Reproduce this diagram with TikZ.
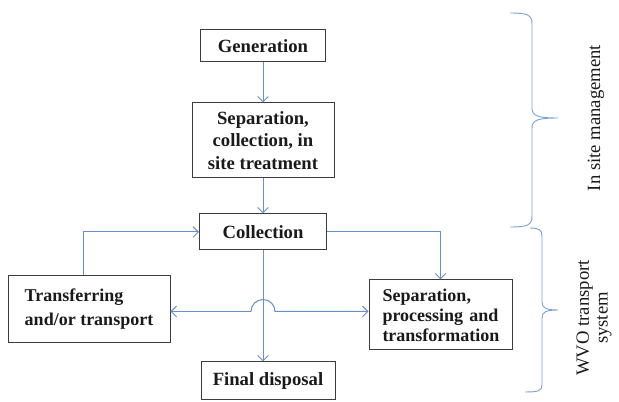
\documentclass[tikz,border=0pt]{standalone}
\usepackage{fontspec}
\setmainfont{Liberation Serif}
\usepackage{tikz}
\usetikzlibrary{positioning,arrows.meta,calc}
\definecolor{ink}{HTML}{1B1919}
\definecolor{flowBlue}{HTML}{6690CC}
\definecolor{braceBlue}{HTML}{7BA1D8}
\tikzset{
  box/.style={draw=ink!85, line width=0.75pt, inner sep=2pt, font=\fontsize{14}{17}\selectfont\bfseries, text=ink, align=center},
  flow/.style={draw=flowBlue, line width=0.75pt, -{Straight Barb[length=4pt,width=8pt]}},
  brc/.style={draw=braceBlue, line width=0.7pt},
  side/.style={font=\fontsize{14}{14}\selectfont, text=ink, rotate=90, align=center},
}

\begin{document}
\begin{tikzpicture}[x=0.75pt, y=-0.75pt]
\useasboundingbox (0,0) rectangle (619,402);
\node[box, minimum width=93.75pt, minimum height=24pt] (gen) at (263,46) {Generation};
\node[box, minimum width=106.5pt, minimum height=56.25pt] (sep) at (263,140.5) {Separation,\\collection, in\\site treatment};
\node[box, minimum width=95.25pt, minimum height=27pt] (coll) at (263,232) {Collection};
\node[box, minimum width=121.5pt, minimum height=50.25pt, align=left, font=\fontsize{13.5}{18}\selectfont\bfseries] (trans) at (89,309.5) {Transferring\\and/or transport};
\node[box, minimum width=107.25pt, minimum height=52.5pt, text width=87pt, align=left, font=\fontsize{13.5}{15}\selectfont\bfseries] (proc) at (440.5,315) {Separation,\\processing\hfill and\\transformation};
\node[box, minimum width=100.5pt, minimum height=28.5pt] (fin) at (268,381) {Final disposal};
\coordinate (hop) at (263,311.5);
\draw[flow] (gen) -- (sep);
\draw[flow] (sep) -- (coll);
\draw[flow] (coll) -- (coll.south |- fin.north);
\draw[flow] ([xshift=-4.5pt]trans.north) |- (coll.west);
\draw[flow] (coll.east) -| (proc.north);
\draw[flow] ([xshift=-9pt]hop) -- (hop -| trans.east);
\draw[flow] ([xshift=-9pt]hop) arc[start angle=180, end angle=0, radius=9pt] -- (hop -| proc.west);
\draw[brc] (510,13) .. controls (528,13) and (532,15) .. (532,24) -- (532,108)
  .. controls (532,116) and (538,118) .. (558,118)
  .. controls (538,118) and (532,120) .. (532,128) -- (532,216)
  .. controls (532,225) and (528,227) .. (510,227);
\draw[brc] (530,228) .. controls (539,228) and (542,230) .. (542,236) -- (542,302)
  .. controls (542,308) and (546,310) .. (558,310)
  .. controls (546,310) and (542,312) .. (542,318) -- (542,385)
  .. controls (542,391) and (538,392) .. (525,392);
\node[side] (insite) at (596,118) {In site management};
\node[side] (wvo) at (594,318) {WVO transport\\system};
\end{tikzpicture}
\end{document}
